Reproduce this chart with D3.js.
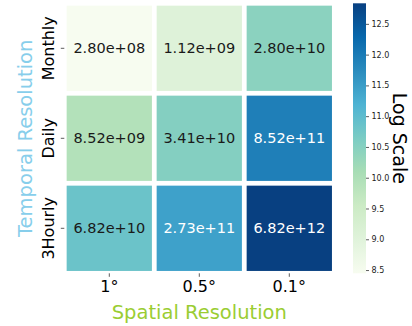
<!DOCTYPE html>
<html>
<head>
<meta charset="utf-8">
<script src="https://cdn.jsdelivr.net/npm/d3@7"></script>
<style>
  html, body { margin: 0; padding: 0; background: #fff; }
  svg { display: block; font-family: "DejaVu Sans", sans-serif; }
</style>
</head>
<body>
<svg id="chart" width="412" height="326"></svg>
<script>
// Data volume per spatial / temporal resolution
const spatialLabels = ["1°", "0.5°", "0.1°"];
const temporalLabels = ["Monthly", "Daily", "3Hourly"];
const monthly = [2.80e8, 1.12e9, 2.80e10];
const daily = [8.52e9, 3.41e10, 8.52e11];
const threeHourly = [6.82e10, 2.73e11, 6.82e12];
const colorbarTicks = [8.5, 9.0, 9.5, 10.0, 10.5, 11.0, 11.5, 12.0, 12.5];

// GnBu colour stops
const gnbu = ["#f7fcf0", "#e0f3db", "#ccebc5", "#a8ddb5", "#7bccc4",
              "#4eb3d3", "#2b8cbe", "#0868ac", "#084081"];

const rows = [monthly, daily, threeHourly];
const cells = [];
rows.forEach((row, i) => row.forEach((v, j) => cells.push({
  row: temporalLabels[i], col: spatialLabels[j], value: v, logValue: Math.log10(v)
})));

const svg = d3.select("#chart");
const plot = { left: 64.3, right: 334.3, top: 3.3, bottom: 273.3 };

const x = d3.scaleBand().domain(spatialLabels).range([plot.left, plot.right]);
const y = d3.scaleBand().domain(temporalLabels).range([plot.top, plot.bottom]);

const logExtent = d3.extent(cells, d => d.logValue);
const t = d3.scaleLinear().domain(logExtent).range([0, 1]);
const stopScale = d3.scaleLinear()
  .domain(d3.range(gnbu.length).map(k => k / (gnbu.length - 1)))
  .range(gnbu)
  .interpolate(d3.interpolateRgb);
const color = v => stopScale(t(v));

function luminance(c) {
  const rgb = d3.rgb(c);
  const lin = u => { u /= 255; return u <= 0.03928 ? u / 12.92 : Math.pow((u + 0.055) / 1.055, 2.4); };
  return 0.2126 * lin(rgb.r) + 0.7152 * lin(rgb.g) + 0.0722 * lin(rgb.b);
}

// Cells
svg.append("g").selectAll("rect").data(cells).join("rect")
  .attr("x", d => x(d.col))
  .attr("y", d => y(d.row))
  .attr("width", x.bandwidth())
  .attr("height", y.bandwidth())
  .attr("fill", d => color(d.logValue))
  .attr("stroke", "#fff")
  .attr("stroke-width", 4.7);

// Cell annotations
svg.append("g").selectAll("text").data(cells).join("text")
  .attr("x", d => x(d.col) + x.bandwidth() / 2)
  .attr("y", d => y(d.row) + y.bandwidth() / 2)
  .attr("text-anchor", "middle")
  .attr("dominant-baseline", "central")
  .attr("font-size", 14.5)
  .attr("fill", d => luminance(color(d.logValue)) > 0.408 ? "#1a1a1a" : "#fff")
  .text(d => d.value.toExponential(2).replace(/e([+-])(\d)$/, "e$10$2"));

// Axes
const xAxis = svg.append("g")
  .attr("transform", `translate(0,${plot.bottom})`)
  .call(d3.axisBottom(x).tickSize(3.5).tickPadding(3.5));
xAxis.select(".domain").remove();
xAxis.selectAll("text").attr("font-size", 16).attr("fill", "#000")
  .attr("font-family", "DejaVu Sans");
xAxis.selectAll("line").attr("stroke", "#333").attr("stroke-width", 0.8);

const yAxis = svg.append("g")
  .attr("transform", `translate(${plot.left},0)`)
  .call(d3.axisLeft(y).tickSize(3.5));
yAxis.select(".domain").remove();
yAxis.selectAll("text")
  .attr("x", null).attr("dy", null)
  .attr("text-anchor", "middle")
  .attr("transform", "translate(-10.3,0) rotate(-90)")
  .attr("font-size", 16).attr("fill", "#000")
  .attr("font-family", "DejaVu Sans");
yAxis.selectAll("line").attr("stroke", "#333").attr("stroke-width", 0.8);

// Axis titles
svg.append("text")
  .attr("transform", `translate(32,${(plot.top + plot.bottom) / 2}) rotate(-90)`)
  .attr("text-anchor", "middle")
  .attr("font-size", 19.5)
  .attr("fill", "#87ceeb")
  .text("Temporal Resolution");

svg.append("text")
  .attr("x", (plot.left + plot.right) / 2)
  .attr("y", 319)
  .attr("text-anchor", "middle")
  .attr("font-size", 19.5)
  .attr("fill", "#9acd32")
  .text("Spatial Resolution");

// Colour bar
const cb = { x: 353, width: 13, top: 3.3, bottom: 273.3 };
const cbScale = d3.scaleLinear().domain(logExtent).range([cb.bottom, cb.top]);

const grad = svg.append("defs").append("linearGradient")
  .attr("id", "cbGrad").attr("x1", 0).attr("y1", 1).attr("x2", 0).attr("y2", 0);
grad.selectAll("stop").data(d3.range(0, 1.0001, 0.125)).join("stop")
  .attr("offset", d => d)
  .attr("stop-color", d => stopScale(d));

svg.append("rect")
  .attr("x", cb.x).attr("y", cb.top)
  .attr("width", cb.width).attr("height", cb.bottom - cb.top)
  .attr("fill", "url(#cbGrad)");

const cbAxis = svg.append("g")
  .attr("transform", `translate(${cb.x + cb.width},0)`)
  .call(d3.axisRight(cbScale).tickValues(colorbarTicks).tickFormat(d3.format(".1f"))
    .tickSize(3).tickPadding(2.5));
cbAxis.select(".domain").remove();
cbAxis.selectAll("text").attr("font-size", 8).attr("fill", "#222")
  .attr("font-family", "DejaVu Sans");
cbAxis.selectAll("line").attr("stroke", "#333").attr("stroke-width", 0.8);

svg.append("text")
  .attr("transform", `translate(393,${(cb.top + cb.bottom) / 2}) rotate(90)`)
  .attr("text-anchor", "middle")
  .attr("font-size", 19)
  .attr("fill", "#000")
  .text("Log Scale");
</script>
</body>
</html>
